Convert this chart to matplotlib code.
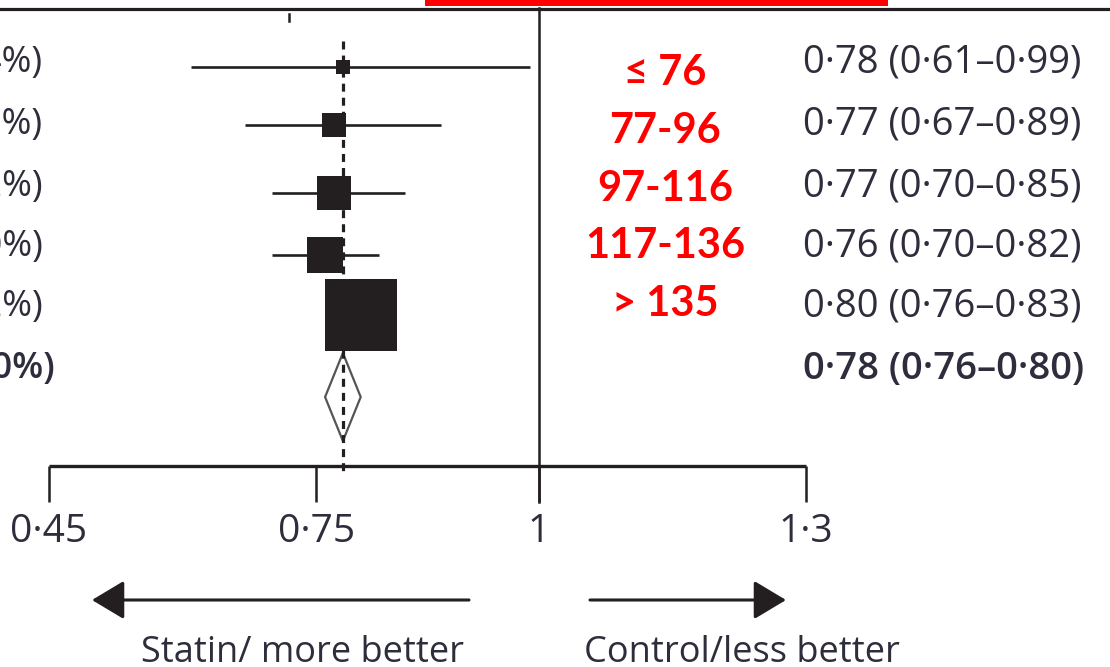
import matplotlib
matplotlib.use("Agg")
import matplotlib.pyplot as plt
from matplotlib.patches import Rectangle, Polygon
from matplotlib.lines import Line2D

# ---- data -------------------------------------------------------------
subgroups = ["≤ 76", "77-96", "97-116", "117-136", "> 135"]
hr = [0.78, 0.77, 0.77, 0.76, 0.80]
ci_low = [0.61, 0.67, 0.70, 0.70, 0.76]
ci_high = [0.99, 0.89, 0.85, 0.82, 0.83]
weights = [2.4, 7.2, 13.2, 16.0, 61.2]
weight_labels = ["(2·4%)", "(7·2%)", "(13·2%)", "(16·0%)", "(61·2%)", "(100%)"]
overall = (0.78, 0.76, 0.80)
result_labels = ["0·78 (0·61–0·99)", "0·77 (0·67–0·89)", "0·77 (0·70–0·85)",
                 "0·76 (0·70–0·82)", "0·80 (0·76–0·83)", "0·78 (0·76–0·80)"]
ticks = [0.45, 0.75, 1.0, 1.3]
tick_labels = ["0·45", "0·75", "1", "1·3"]
left_caption = "Statin/ more better"
right_caption = "Control/less better"

# ---- layout -----------------------------------------------------------
W, H = 1110, 667
INK = "#231f20"
TXT = "#2e2d3c"
NUM_FONT = ["Open Sans", "DejaVu Sans"]
RED_FONT = ["Lato", "DejaVu Sans"]

fig = plt.figure(figsize=(W / 100, H / 100), dpi=100)
x0_px, x1_px, top_px, base_px = 49, 806, 8, 466
ax = fig.add_axes([x0_px / W, 1 - base_px / H, (x1_px - x0_px) / W, (base_px - top_px) / H])
ax.set_xlim(ticks[0], ticks[-1])
ax.set_ylim(base_px, top_px)   # y measured downward in pixels
unit_px = (x1_px - x0_px) / (ticks[-1] - ticks[0])


def xv(px):
    """horizontal pixel position -> axis value"""
    return ticks[0] + (px - x0_px) / unit_px


row_y = [67, 125, 193, 255, 315]
text_y = [63, 125, 187, 247, 307, 369]
red_y = [73, 131, 189, 246, 304]
diamond_y, diamond_half = 397, 44

# overall effect dashed reference line
ax.plot([overall[0]] * 2, [41, 472], color=INK, lw=2.3, dashes=(2.5, 1.9),
        zorder=3, clip_on=False)

# no-effect line
ax.plot([1, 1], [top_px, 502], color=INK, lw=1.8, zorder=2, clip_on=False)

# small tick near the top
ax.plot([xv(289)] * 2, [14, 21], color=INK, lw=1.8, clip_on=False)

# confidence intervals and weighted squares
for y, m, lo, hi, w in zip(row_y, hr, ci_low, ci_high, weights):
    ax.plot([lo, hi], [y, y], color=INK, lw=1.9, zorder=2, solid_capstyle="butt")
    side = 9.2 * w ** 0.5
    ax.add_patch(Rectangle((m - side / 2 / unit_px, y - side / 2), side / unit_px, side,
                           facecolor=INK, edgecolor="none", zorder=4))

# pooled estimate diamond
m, lo, hi = overall
ax.add_patch(Polygon([(lo, diamond_y), (m, diamond_y - diamond_half),
                      (hi, diamond_y), (m, diamond_y + diamond_half)],
                     closed=True, facecolor="white", edgecolor="#555555", lw=1.6, zorder=2))

# bottom axis
for s in ["top", "left", "right"]:
    ax.spines[s].set_visible(False)
ax.spines["bottom"].set_linewidth(2.4)
ax.spines["bottom"].set_color(INK)
ax.spines["bottom"].set_capstyle("butt")
ax.set_yticks([])
ax.set_xticks(ticks)
ax.set_xticklabels(tick_labels, fontsize=28, color=TXT, family=NUM_FONT)
ax.tick_params(axis="x", direction="out", length=26, width=1.8, color=INK, pad=8)
ax.patch.set_alpha(0)

# header rules
fig.add_artist(Line2D([0, 1], [1 - 8.5 / H] * 2, transform=fig.transFigure,
                      color=INK, lw=2.3))
fig.add_artist(Rectangle((425 / W, 1 - 5.5 / H), (888 - 425) / W, 5.5 / H,
                         transform=fig.transFigure, facecolor="#ff0000",
                         edgecolor="none"))

# row texts (the weight column runs off the left edge)
for y, lab in zip(text_y, weight_labels):
    bold = lab == weight_labels[-1]
    ax.text(xv(43 if not bold else 55), y, lab, ha="right", va="center", fontsize=26,
            color=TXT, family=NUM_FONT, fontweight="semibold" if bold else "normal",
            clip_on=False)
for y, lab in zip(text_y, result_labels):
    bold = lab is result_labels[-1]
    ax.text(xv(803), y, lab, ha="left", va="center", fontsize=27.5, color=TXT,
            family=NUM_FONT, fontweight="semibold" if bold else "normal", clip_on=False)
for y, lab in zip(red_y, subgroups):
    ax.text(xv(665), y, lab, ha="center", va="center", fontsize=30, color="#ff0000",
            family=RED_FONT, fontweight="bold", clip_on=False)

# direction arrows
arrow = dict(arrowstyle="-|>,head_length=2.0,head_width=1.2", lw=2.2, color=INK,
             shrinkA=0, shrinkB=0, mutation_scale=10)
ax.annotate("", xy=(xv(92), 600), xytext=(xv(469), 600), arrowprops=arrow,
            annotation_clip=False)
ax.annotate("", xy=(xv(786), 600), xytext=(xv(590), 600), arrowprops=arrow,
            annotation_clip=False)
ax.text(xv(303), 662, left_caption, ha="center", va="baseline", fontsize=26,
        color=TXT, family=NUM_FONT, clip_on=False)
ax.text(xv(742), 662, right_caption, ha="center", va="baseline", fontsize=26,
        color=TXT, family=NUM_FONT, clip_on=False)

fig.savefig("out.png", dpi=100)
